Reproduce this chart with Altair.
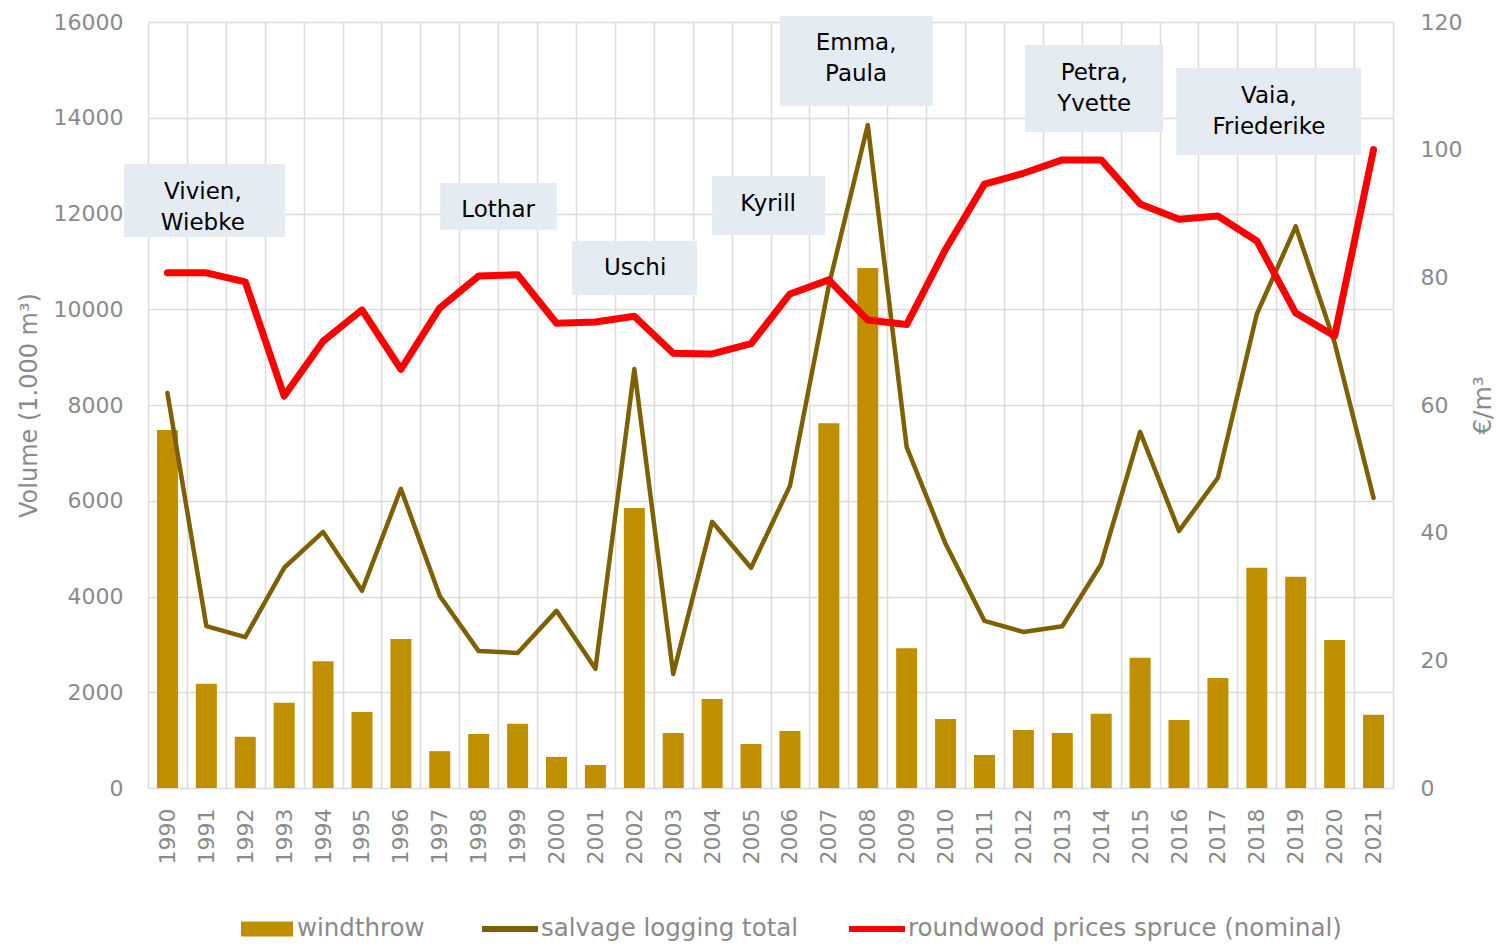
import altair as alt
import pandas as pd

# ---------------- data ----------------
years = list(range(1990, 2022))
windthrow = [7480, 2180, 1070, 1780, 2650, 1590, 3110, 770, 1130, 1340, 650, 480,
             5850, 1150, 1860, 920, 1190, 7620, 10860, 2920, 1440, 690, 1210, 1150,
             1550, 2720, 1420, 2300, 4600, 4410, 3090, 1530]
salvage = [8250, 3380, 3150, 4600, 5350, 4120, 6250, 4010, 2860, 2820, 3700, 2490,
           8750, 2380, 5560, 4600, 6310, 10500, 13850, 7120, 5100, 3490, 3260, 3380,
           4680, 7440, 5370, 6480, 9900, 11730, 9300, 6060]
prices = [80.7, 80.7, 79.3, 61.4, 70.0, 74.9, 65.6, 75.2, 80.2, 80.4, 72.8, 73.0,
          73.9, 68.1, 68.0, 69.6, 77.4, 79.6, 73.3, 72.6, 84.4, 94.6, 96.3, 98.4,
          98.4, 91.5, 89.1, 89.6, 85.7, 74.4, 70.8, 100.0]

bar_series = ["windthrow"]
bar_colors = ["#BF8F00"]
line_series = ["salvage logging total", "roundwood prices spruce (nominal)"]
line_colors = ["#7F6000", "#FF0000"]

# storm annotations (box extents and text anchor in data units: year / volume)
storm_labels = ["Vivien,\nWiebke", "Lothar", "Uschi", "Kyrill", "Emma,\nPaula",
                "Petra,\nYvette", "Vaia,\nFriederike"]
storm_year_from = [1988.88, 1997.01, 2000.40, 2004.00, 2005.74, 2012.04, 2015.93]
storm_year_to = [1993.02, 2000.01, 2003.61, 2006.90, 2009.67, 2015.59, 2020.68]
storm_vol_low = [11510, 11656, 10298, 11551, 14246, 13703, 13222]
storm_vol_high = [13034, 12637, 11426, 12784, 16126, 15520, 15039]
storm_text_year = [1990.91, 1998.50, 2002.02, 2005.44, 2007.70, 2013.82, 2018.31]
storm_text_vol = [12449, 12073, 10862, 12199, 15562, 14935, 14455]

# ---------------- tables ----------------
df_w = pd.DataFrame({"year": years, "value": windthrow, "series": bar_series[0]})
df_s = pd.DataFrame({"year": years, "value": salvage, "series": line_series[0]})
df_p = pd.DataFrame({"year": years, "price": prices, "series": line_series[1]})
ann = pd.DataFrame({
    "label": storm_labels,
    "x0": storm_year_from, "x1": storm_year_to,
    "y0": storm_vol_low, "y1": storm_vol_high,
    "xc": storm_text_year, "yc": storm_text_vol,
})

FONT = "DejaVu Sans"
GRAY = "#8a8a8a"
GRID = "#dcdcdc"

x_scale = alt.Scale(domain=[1989.5, 2021.5], nice=False, zero=False, padding=0)
y_left = alt.Scale(domain=[0, 16000], nice=False)
y_right = alt.Scale(domain=[0, 120], nice=False)

half_band = 1245 / 32 / 2

x_axis = alt.Axis(values=years, format="d", labelAngle=270, title=None,
                  grid=True, gridColor=GRID, gridWidth=1.5, ticks=False, tickSize=0,
                  domain=False, tickOffset=-half_band, labelOffset=half_band,
                  labelPadding=20, labelFontSize=22, labelColor=GRAY, labelFont=FONT)
y_axis = alt.Axis(values=list(range(0, 16001, 2000)), format="d",
                  title="Volume (1.000 m³)", titleFontSize=24, titleColor=GRAY,
                  titleFont=FONT, titleFontWeight="normal", titlePadding=12,
                  grid=True, gridColor=GRID, gridWidth=1.5, ticks=False, tickSize=0,
                  domain=False, labelPadding=25, labelFontSize=22, labelColor=GRAY,
                  labelFont=FONT)
y2_axis = alt.Axis(orient="right", values=list(range(0, 121, 20)), format="d",
                   title="€/m³", titleFontSize=25, titleColor=GRAY, titleFont=FONT,
                   titleFontWeight="normal", titlePadding=34, titleAngle=270,
                   grid=False, ticks=False, tickSize=0, domain=True, domainColor=GRID,
                   domainWidth=1.5, labelPadding=27, labelFontSize=22,
                   labelColor=GRAY, labelFont=FONT)

bar_legend = alt.Legend(
    title=None, orient="none", legendX=93, legendY=881, direction="horizontal",
    symbolType="M-1,-0.29H1V0.29H-1Z", symbolSize=2704, symbolStrokeWidth=0,
    labelFontSize=24.5, labelColor=GRAY, labelFont=FONT, labelOffset=4,
    labelLimit=700,
)
line_legend = alt.Legend(
    title=None, orient="none", legendX=331, legendY=876, direction="horizontal",
    symbolType="stroke", symbolSize=3136, symbolStrokeWidth=6,
    labelFontSize=24.5, labelColor=GRAY, labelFont=FONT, labelOffset=0,
    labelLimit=700, columnPadding=38,
)

X = alt.X("year:Q", scale=x_scale, axis=x_axis)
fill = alt.Fill("series:N", scale=alt.Scale(domain=bar_series, range=bar_colors),
                legend=bar_legend)
stroke = alt.Stroke("series:N", scale=alt.Scale(domain=line_series, range=line_colors),
                    legend=line_legend)

bars = alt.Chart(df_w).mark_bar(size=21).encode(
    x=X, y=alt.Y("value:Q", scale=y_left, axis=y_axis), fill=fill)

salvage_line = alt.Chart(df_s).mark_line(strokeWidth=4.5, strokeJoin="round",
                                         strokeCap="round").encode(
    x=X, y=alt.Y("value:Q", scale=y_left, axis=y_axis), stroke=stroke)

boxes = alt.Chart(ann).mark_rect(color="#E4EBF3").encode(
    x=alt.X("x0:Q", scale=x_scale, axis=x_axis), x2="x1:Q",
    y=alt.Y("y0:Q", scale=y_left, axis=y_axis), y2="y1:Q")

texts = alt.Chart(ann).mark_text(fontSize=23, font=FONT, color="#000000",
                                 lineBreak="\n", lineHeight=31, baseline="middle",
                                 align="center").encode(
    x=alt.X("xc:Q", scale=x_scale, axis=x_axis),
    y=alt.Y("yc:Q", scale=y_left, axis=y_axis),
    text="label:N")

left = alt.layer(bars, salvage_line, boxes, texts)

price_line = alt.Chart(df_p).mark_line(strokeWidth=7, strokeJoin="round",
                                       strokeCap="round").encode(
    x=X, y=alt.Y("price:Q", scale=y_right, axis=y2_axis), stroke=stroke)

chart = alt.layer(left, price_line).resolve_scale(y="independent").properties(
    width=1245, height=766,
    autosize=alt.AutoSizeParams(type="none"),
    padding={"left": 140, "top": 14, "right": 103, "bottom": 155},
).configure_view(stroke=None)

chart.save("out.html", embed_options={"renderer": "svg", "actions": False})
